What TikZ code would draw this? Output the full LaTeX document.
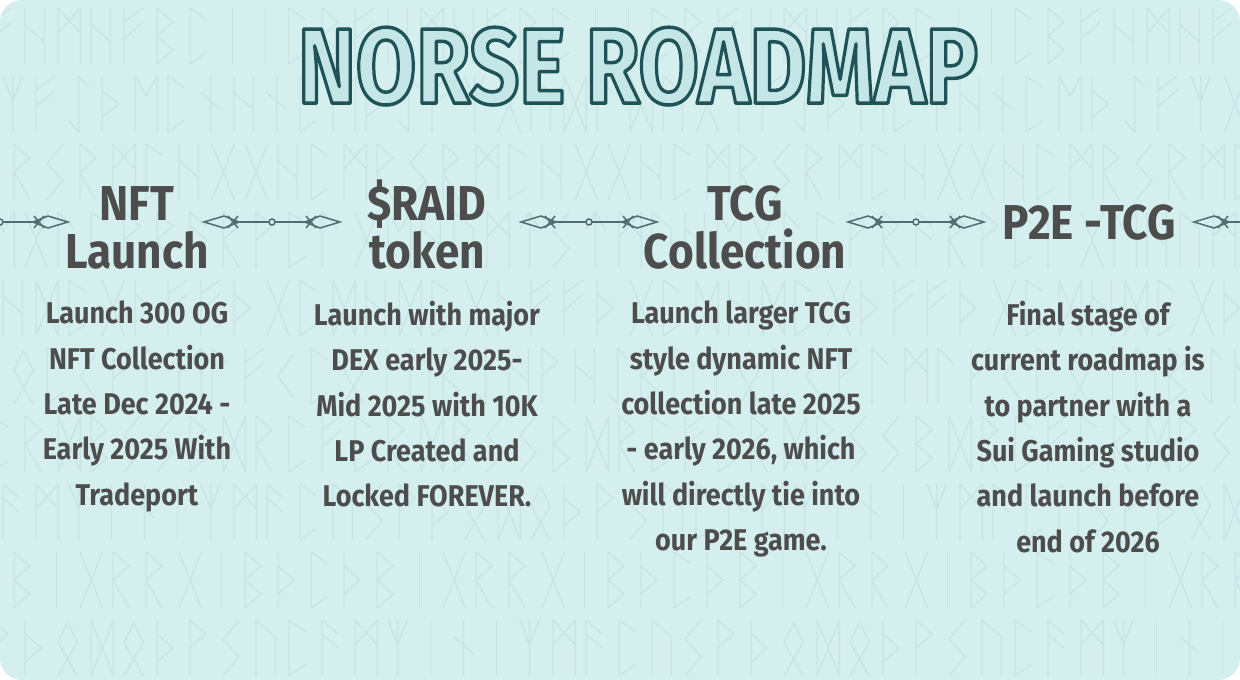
\documentclass[tikz,border=0pt]{standalone}
\usepackage{fontspec}
\usepackage{graphicx}
\newfontfamily\nf{Fira Sans}[FakeStretch=0.9]
\definecolor{bg}{HTML}{D5EFEF}
\definecolor{runec}{HTML}{C8E5E6}
\definecolor{ink}{HTML}{4D4D4D}
\definecolor{conn}{HTML}{4F6D72}
\definecolor{tfill}{HTML}{C5E6E6}
\definecolor{tline}{HTML}{1F5358}
\newcommand\outlinedtext[1]{{\color{tfill}\special{pdf:literal direct 2 Tr 3.6 w 1 j 0.122 0.325 0.345 RG}#1\special{pdf:literal direct 0 Tr}}}

\newcommand\runeshape[1]{\ifcase#1
 \draw (0,0)--(0,1) (0,0.75)--(0.6,1) (0,0.45)--(0.6,0.75);\or
 \draw (0,0)--(0,1)--(0.6,0.7)--(0.6,0);\or
 \draw (0,0)--(0,1) (0,0.75)--(0.5,0.5)--(0,0.25);\or
 \draw (0,0)--(0,1)--(0.5,0.75) (0,0.75)--(0.5,0.5);\or
 \draw (0,0)--(0,1)--(0.5,0.75)--(0,0.5)--(0.5,0);\or
 \draw (0.5,0.9)--(0,0.5)--(0.5,0.1);\or
 \draw (0,0)--(0.7,1) (0,1)--(0.7,0);\or
 \draw (0,0)--(0,1)--(0.5,0.75)--(0,0.5);\or
 \draw (0,0)--(0,1) (0.6,0)--(0.6,1) (0,0.7)--(0.6,0.4);\or
 \draw (0.3,0)--(0.3,1) (0,0.7)--(0.6,0.4);\or
 \draw (0.3,0)--(0.3,1);\or
 \draw (0.3,0)--(0.3,1)--(0.6,0.8) (0.3,0)--(0,0.2);\or
 \draw (0,0)--(0,1)--(0.5,0.8) (0,0)--(0.5,0.2);\or
 \draw (0.3,0)--(0.3,1) (0,1)--(0.3,0.55)--(0.6,1);\or
 \draw (0.5,1)--(0,0.65)--(0.5,0.35)--(0,0);\or
 \draw (0.3,0)--(0.3,1) (0,0.7)--(0.3,1)--(0.6,0.7);\or
 \draw (0,0)--(0,1)--(0.5,0.75)--(0,0.5)--(0.5,0.25)--(0,0);\or
 \draw (0,0)--(0,1)--(0.35,0.65)--(0.7,1)--(0.7,0);\or
 \draw (0,0)--(0,1)--(0.7,0.55) (0.7,0)--(0.7,1)--(0,0.55);\or
 \draw (0,0)--(0,1)--(0.5,0.7);\or
 \draw (0,0)--(0,1)--(0.7,0)--(0.7,1)--cycle;\or
 \draw (0,0)--(0.6,0.6)--(0.3,0.95)--(0,0.6)--(0.6,0);\fi}

\tikzset{
  headtext/.style={font=\nf\bfseries\fontsize{49}{48}\selectfont, text=ink, align=center, inner sep=0pt},
  bodytext/.style={font=\nf\bfseries\fontsize{30}{45.3}\selectfont, text=ink, align=center, inner sep=0pt},
  ln/.style={draw=conn, line width=1.5pt},
  divider/.pic={
    \draw[ln] (-39,0) -- (-3,0) (3,0) -- (39,0);
    \draw[ln, fill=bg] (0,0) circle (3);
    \foreach \s in {-1,1}{
      \draw[ln, line join=miter] ({\s*(39-6)},0) -- ({\s*(39+9)},-6) -- ({\s*(39+29)},0) -- ({\s*(39+9)},6) -- cycle;
      \draw[ln] ({\s*39-5},-6) -- ({\s*39+5},6) ({\s*39-5},6) -- ({\s*39+5},-6);
    }
  }
}

\begin{document}
\begin{tikzpicture}[x=1pt,y=-1pt]
\useasboundingbox (0,0) rectangle (1240,680);
\fill[white] (0,0) rectangle (1240,680);
\fill[bg, rounded corners=22pt] (0,0) rectangle (1240,680);

% background runes
\begin{scope}
\clip[rounded corners=22pt] (0,0) rectangle (1240,680);
\begin{scope}[color=runec, line width=1.4pt, line cap=round, line join=round]
\foreach \r in {0,...,9}{
  \foreach \c in {0,...,38}{
    \pgfmathtruncatemacro\k{mod(\r*13+\c*7+\c*\c+\r*\c,22)}
    \begin{scope}[shift={({\c*33+mod(\r,3)*11-8},{64+\r*68})}, xscale=32, yscale=-56]
      \runeshape{\k}
    \end{scope}
  }
}
\end{scope}

% dividers
\coordinate (d0) at (0,222);
\coordinate (d1) at (272,222);
\coordinate (d2) at (589,222);
\coordinate (d3) at (916,222);
\coordinate (d4) at (1262,222);
\foreach \d in {d0,d1,d2,d3,d4}{ \pic at (\d) {divider}; }
\end{scope}

% title
\node[inner sep=0pt, anchor=north] (title) at (638,27)
  {\resizebox{680pt}{76pt}{\nf\bfseries\fontsize{110}{110}\selectfont\outlinedtext{NORSE ROADMAP}}};

% headings
\node[headtext, anchor=north] (h1) at (137,186) {NFT\\Launch};
\node[headtext, anchor=north] (h2) at (427,180) {\$RAID\\token};
\node[headtext, anchor=north] (h3) at (745,186) {TCG\\Collection};
\node[headtext, anchor=north] (h4) at (1089,205) {P2E -TCG};

% body texts
\node[bodytext, anchor=north] (b1) at (137,301)
  {Launch 300 OG\\NFT Collection\\Late Dec 2024 -\\Early 2025 With\\Tradeport};
\node[bodytext, anchor=north] (b2) at (427,301)
  {Launch with major\\DEX early 2025-\\Mid 2025 with 10K\\LP Created and\\Locked FOREVER.};
\node[bodytext, anchor=north] (b3) at (741,301)
  {Launch larger TCG\\style dynamic NFT\\collection late 2025\\- early 2026, which\\will directly tie into\\our P2E game.};
\node[bodytext, anchor=north] (b4) at (1088,301)
  {Final stage of\\current roadmap is\\to partner with a\\Sui Gaming studio\\and launch before\\end of 2026};
\end{tikzpicture}
\end{document}
